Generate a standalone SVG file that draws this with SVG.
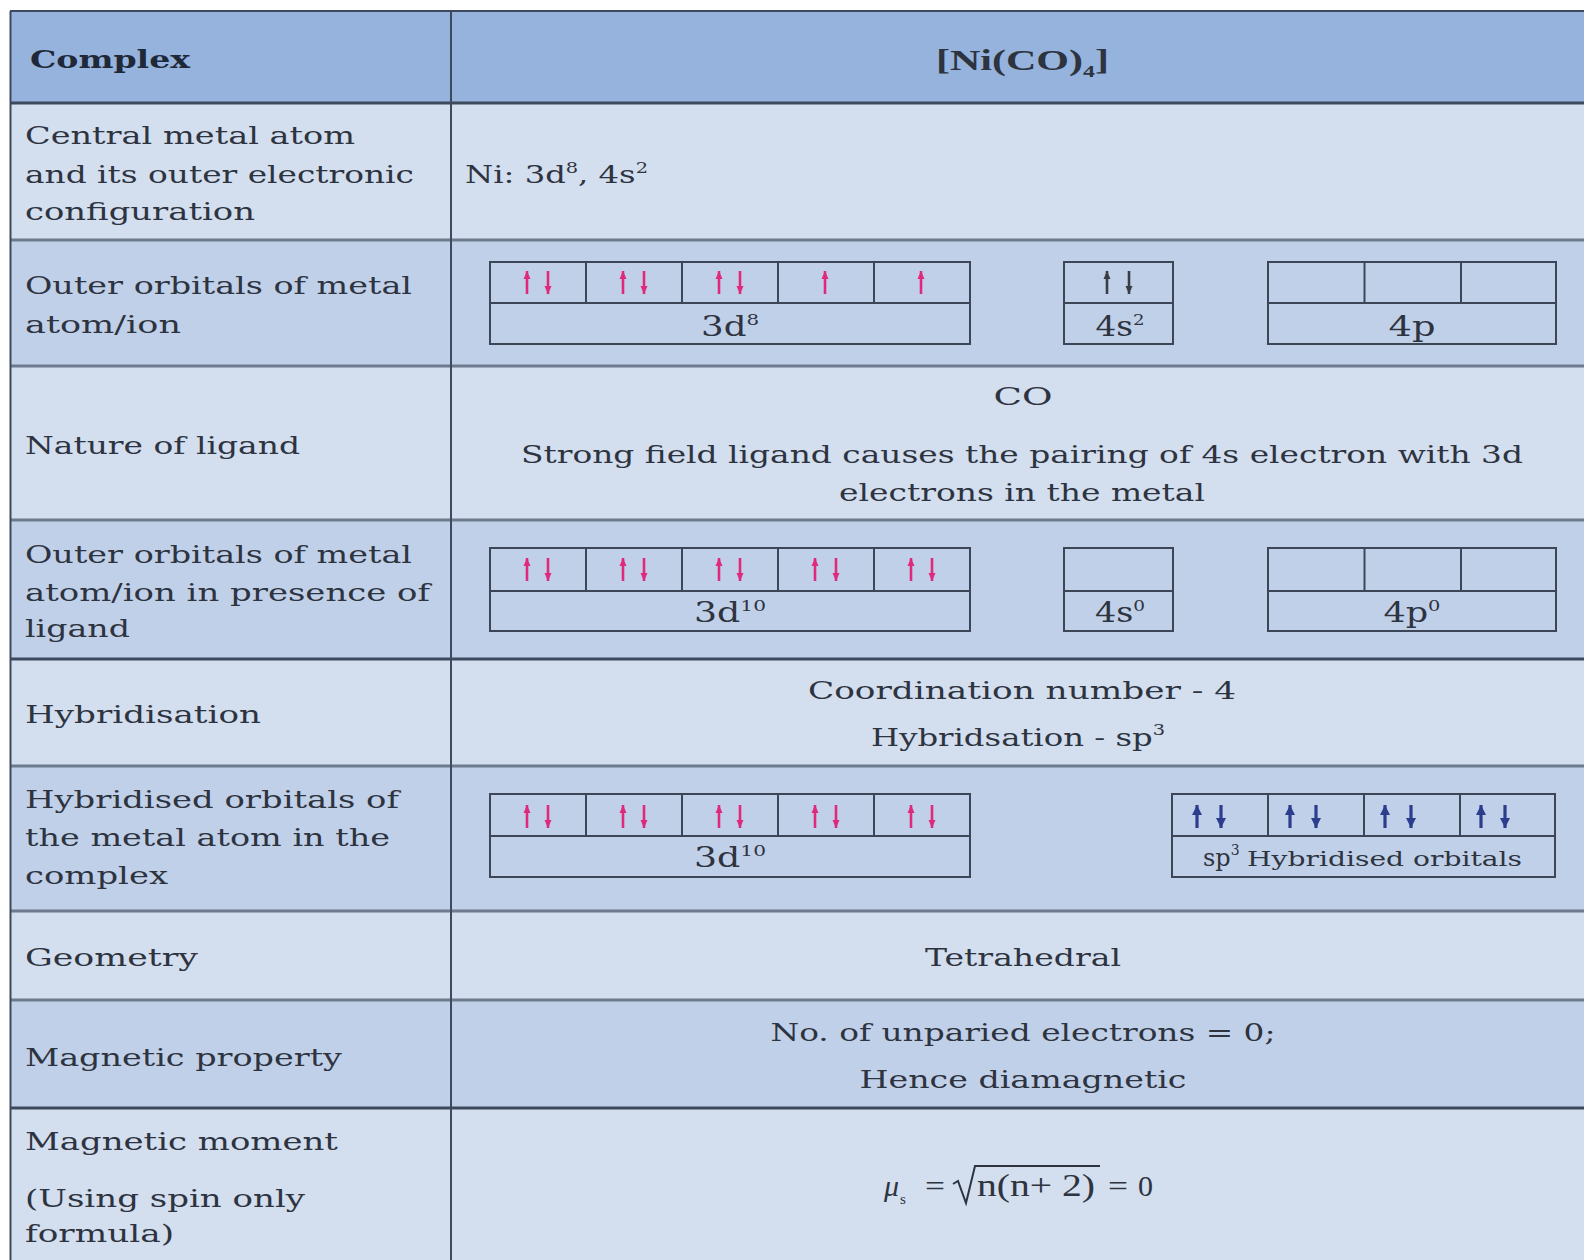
<svg xmlns="http://www.w3.org/2000/svg" width="1584" height="1260" viewBox="0 0 1584 1260">
<defs>
<marker id="hp" markerUnits="userSpaceOnUse" markerWidth="9" markerHeight="9" viewBox="0 -4.5 9 9" refX="8" refY="0" orient="auto"><path d="M0,-3.5 L8,0 L0,3.5 Z" fill="#e0287d"/></marker>
<marker id="hk" markerUnits="userSpaceOnUse" markerWidth="9" markerHeight="9" viewBox="0 -4.5 9 9" refX="8" refY="0" orient="auto"><path d="M0,-3.5 L8,0 L0,3.5 Z" fill="#3a3d44"/></marker>
<marker id="hb" markerUnits="userSpaceOnUse" markerWidth="12" markerHeight="12" viewBox="0 -6 12 12" refX="10" refY="0" orient="auto"><path d="M0,-5 L10,0 L0,5 Z" fill="#2b3d8c"/></marker>
</defs>
<style>
.t { font-family: "DejaVu Serif", "Liberation Serif", serif; font-size: 25px; fill: #2e343f; }
.b { font-weight: bold; fill: #1f2838; }
.c { text-anchor: middle; }
.lab { font-size: 27px; }
.m { font-family: "Liberation Serif", serif; font-size: 30px; fill: #2e343f; }
.hdr { fill: #95b3dd; }
.lt { fill: #d3deef; }
.dk { fill: #c1d0e9; }
.sep { stroke: #6e7b8e; stroke-width: 3; }
.dsep { stroke: #3d4a5e; stroke-width: 3; }
.vl { stroke: #3d4a5e; stroke-width: 2; }
.box { fill: none; stroke: #3c4656; stroke-width: 2; }
.bl { stroke: #3c4656; stroke-width: 2; }
.pk { stroke: #e0287d; stroke-width: 2.6; marker-end: url(#hp); }
.gk { stroke: #3a3d44; stroke-width: 2.6; marker-end: url(#hk); }
.bu { stroke: #2b3d8c; stroke-width: 3.2; marker-end: url(#hb); }
</style>
<rect x="0" y="0" width="1584" height="1260" fill="#ffffff"/>

<g id="row-backgrounds">
<rect class="hdr" x="10" y="12" width="1574" height="91"/>
<rect class="lt" x="10" y="103" width="1574" height="137"/>
<rect class="dk" x="10" y="240" width="1574" height="126"/>
<rect class="lt" x="10" y="366" width="1574" height="154"/>
<rect class="dk" x="10" y="520" width="1574" height="139"/>
<rect class="lt" x="10" y="659" width="1574" height="107"/>
<rect class="dk" x="10" y="766" width="1574" height="145"/>
<rect class="lt" x="10" y="911" width="1574" height="89"/>
<rect class="dk" x="10" y="1000" width="1574" height="108"/>
<rect class="lt" x="10" y="1108" width="1574" height="152"/>
</g>

<g id="grid">
<line class="vl" x1="10" y1="11" x2="1584" y2="11"/>
<line class="dsep" x1="10" y1="103" x2="1584" y2="103"/>
<line class="sep" x1="10" y1="240" x2="1584" y2="240"/>
<line class="sep" x1="10" y1="366" x2="1584" y2="366"/>
<line class="sep" x1="10" y1="520" x2="1584" y2="520"/>
<line class="dsep" x1="10" y1="659" x2="1584" y2="659"/>
<line class="sep" x1="10" y1="766" x2="1584" y2="766"/>
<line class="sep" x1="10" y1="911" x2="1584" y2="911"/>
<line class="sep" x1="10" y1="1000" x2="1584" y2="1000"/>
<line class="dsep" x1="10" y1="1108" x2="1584" y2="1108"/>
<line class="vl" x1="10.5" y1="11" x2="10.5" y2="1260"/>
<line class="vl" x1="451" y1="11" x2="451" y2="1260"/>
</g>

<g id="row-header">
<text class="t b" x="30" y="68" textLength="160" lengthAdjust="spacingAndGlyphs">Complex</text>
<text class="m b" x="936" y="70" textLength="173" lengthAdjust="spacingAndGlyphs">[Ni(CO)<tspan font-size="17" dy="7">4</tspan><tspan dy="-7">]</tspan></text>
</g>

<g id="row-config">
<text class="t" x="25" y="144" textLength="330" lengthAdjust="spacingAndGlyphs">Central metal atom</text>
<text class="t" x="25" y="182.5" textLength="389" lengthAdjust="spacingAndGlyphs">and its outer electronic</text>
<text class="t" x="25" y="219.5" textLength="230" lengthAdjust="spacingAndGlyphs">configuration</text>
<text class="t" x="465" y="183" textLength="183" lengthAdjust="spacingAndGlyphs">Ni: 3d<tspan font-size="15" dy="-10">8</tspan><tspan dy="10">, 4s</tspan><tspan font-size="15" dy="-10">2</tspan></text>
</g>

<g id="row-outer-orbitals">
<text class="t" x="25" y="294" textLength="387" lengthAdjust="spacingAndGlyphs">Outer orbitals of metal</text>
<text class="t" x="25" y="333" textLength="156" lengthAdjust="spacingAndGlyphs">atom/ion</text>
<rect class="box" x="490" y="262" width="480" height="82"/>
<line class="bl" x1="490" y1="303" x2="970" y2="303"/>
<line class="bl" x1="586" y1="262" x2="586" y2="303"/>
<line class="bl" x1="682" y1="262" x2="682" y2="303"/>
<line class="bl" x1="778" y1="262" x2="778" y2="303"/>
<line class="bl" x1="874" y1="262" x2="874" y2="303"/>
<line class="pk" x1="527" y1="294" x2="527" y2="271"/>
<line class="pk" x1="548" y1="271" x2="548" y2="294"/>
<line class="pk" x1="623" y1="294" x2="623" y2="271"/>
<line class="pk" x1="644" y1="271" x2="644" y2="294"/>
<line class="pk" x1="719" y1="294" x2="719" y2="271"/>
<line class="pk" x1="740" y1="271" x2="740" y2="294"/>
<line class="pk" x1="825" y1="294" x2="825" y2="271"/>
<line class="pk" x1="921" y1="294" x2="921" y2="271"/>
<text class="t lab c" x="730" y="336" textLength="58" lengthAdjust="spacingAndGlyphs">3d<tspan font-size="15" dy="-11">8</tspan></text>
<rect class="box" x="1064" y="262" width="109" height="82"/>
<line class="bl" x1="1064" y1="303" x2="1173" y2="303"/>
<line class="gk" x1="1107" y1="294" x2="1107" y2="271"/>
<line class="gk" x1="1129" y1="271" x2="1129" y2="294"/>
<text class="t lab c" x="1120" y="336" textLength="49" lengthAdjust="spacingAndGlyphs">4s<tspan font-size="15" dy="-11">2</tspan></text>
<rect class="box" x="1268" y="262" width="288" height="82"/>
<line class="bl" x1="1268" y1="303" x2="1556" y2="303"/>
<line class="bl" x1="1364.5" y1="262" x2="1364.5" y2="303"/>
<line class="bl" x1="1461" y1="262" x2="1461" y2="303"/>
<text class="t lab c" x="1412" y="336" textLength="47" lengthAdjust="spacingAndGlyphs">4p</text>
</g>

<g id="row-ligand">
<text class="t" x="25" y="454" textLength="275" lengthAdjust="spacingAndGlyphs">Nature of ligand</text>
<text class="t c" x="1023" y="405" textLength="59" lengthAdjust="spacingAndGlyphs">CO</text>
<text class="t c" x="1022" y="463" textLength="1002" lengthAdjust="spacingAndGlyphs">Strong field ligand causes the pairing of 4s electron with 3d</text>
<text class="t c" x="1022" y="501" textLength="366" lengthAdjust="spacingAndGlyphs">electrons in the metal</text>
</g>

<g id="row-outer-orbitals-ligand">
<text class="t" x="25" y="563" textLength="387" lengthAdjust="spacingAndGlyphs">Outer orbitals of metal</text>
<text class="t" x="25" y="601" textLength="405" lengthAdjust="spacingAndGlyphs">atom/ion in presence of</text>
<text class="t" x="25" y="637" textLength="105" lengthAdjust="spacingAndGlyphs">ligand</text>
<rect class="box" x="490" y="548" width="480" height="83"/>
<line class="bl" x1="490" y1="591" x2="970" y2="591"/>
<line class="bl" x1="586" y1="548" x2="586" y2="591"/>
<line class="bl" x1="682" y1="548" x2="682" y2="591"/>
<line class="bl" x1="778" y1="548" x2="778" y2="591"/>
<line class="bl" x1="874" y1="548" x2="874" y2="591"/>
<line class="pk" x1="527" y1="581" x2="527" y2="558"/>
<line class="pk" x1="548" y1="558" x2="548" y2="581"/>
<line class="pk" x1="623" y1="581" x2="623" y2="558"/>
<line class="pk" x1="644" y1="558" x2="644" y2="581"/>
<line class="pk" x1="719" y1="581" x2="719" y2="558"/>
<line class="pk" x1="740" y1="558" x2="740" y2="581"/>
<line class="pk" x1="815" y1="581" x2="815" y2="558"/>
<line class="pk" x1="836" y1="558" x2="836" y2="581"/>
<line class="pk" x1="911" y1="581" x2="911" y2="558"/>
<line class="pk" x1="932" y1="558" x2="932" y2="581"/>
<text class="t lab c" x="730" y="622" textLength="72" lengthAdjust="spacingAndGlyphs">3d<tspan font-size="15" dy="-11">10</tspan></text>
<rect class="box" x="1064" y="548" width="109" height="83"/>
<line class="bl" x1="1064" y1="591" x2="1173" y2="591"/>
<text class="t lab c" x="1120" y="622" textLength="50" lengthAdjust="spacingAndGlyphs">4s<tspan font-size="15" dy="-11">0</tspan></text>
<rect class="box" x="1268" y="548" width="288" height="83"/>
<line class="bl" x1="1268" y1="591" x2="1556" y2="591"/>
<line class="bl" x1="1364.5" y1="548" x2="1364.5" y2="591"/>
<line class="bl" x1="1461" y1="548" x2="1461" y2="591"/>
<text class="t lab c" x="1412" y="622" textLength="57" lengthAdjust="spacingAndGlyphs">4p<tspan font-size="15" dy="-11">0</tspan></text>
</g>

<g id="row-hybridisation">
<text class="t" x="25" y="723" textLength="236" lengthAdjust="spacingAndGlyphs">Hybridisation</text>
<text class="t c" x="1022" y="699" textLength="428" lengthAdjust="spacingAndGlyphs">Coordination number - 4</text>
<text class="t c" x="1018" y="746" textLength="294" lengthAdjust="spacingAndGlyphs">Hybridsation - sp<tspan font-size="15" dy="-11">3</tspan></text>
</g>

<g id="row-hybrid-orbitals">
<text class="t" x="25" y="808" textLength="374" lengthAdjust="spacingAndGlyphs">Hybridised orbitals of</text>
<text class="t" x="25" y="846" textLength="365" lengthAdjust="spacingAndGlyphs">the metal atom in the</text>
<text class="t" x="25" y="884" textLength="143" lengthAdjust="spacingAndGlyphs">complex</text>
<rect class="box" x="490" y="794" width="480" height="83"/>
<line class="bl" x1="490" y1="836" x2="970" y2="836"/>
<line class="bl" x1="586" y1="794" x2="586" y2="836"/>
<line class="bl" x1="682" y1="794" x2="682" y2="836"/>
<line class="bl" x1="778" y1="794" x2="778" y2="836"/>
<line class="bl" x1="874" y1="794" x2="874" y2="836"/>
<line class="pk" x1="527" y1="828" x2="527" y2="805"/>
<line class="pk" x1="548" y1="805" x2="548" y2="828"/>
<line class="pk" x1="623" y1="828" x2="623" y2="805"/>
<line class="pk" x1="644" y1="805" x2="644" y2="828"/>
<line class="pk" x1="719" y1="828" x2="719" y2="805"/>
<line class="pk" x1="740" y1="805" x2="740" y2="828"/>
<line class="pk" x1="815" y1="828" x2="815" y2="805"/>
<line class="pk" x1="836" y1="805" x2="836" y2="828"/>
<line class="pk" x1="911" y1="828" x2="911" y2="805"/>
<line class="pk" x1="932" y1="805" x2="932" y2="828"/>
<text class="t lab c" x="730" y="867" textLength="72" lengthAdjust="spacingAndGlyphs">3d<tspan font-size="15" dy="-11">10</tspan></text>
<rect class="box" x="1172" y="794" width="383" height="83"/>
<line class="bl" x1="1172" y1="836" x2="1555" y2="836"/>
<line class="bl" x1="1268" y1="794" x2="1268" y2="836"/>
<line class="bl" x1="1364" y1="794" x2="1364" y2="836"/>
<line class="bl" x1="1460" y1="794" x2="1460" y2="836"/>
<line class="bu" x1="1197" y1="828" x2="1197" y2="805"/>
<line class="bu" x1="1221" y1="805" x2="1221" y2="828"/>
<line class="bu" x1="1290" y1="828" x2="1290" y2="805"/>
<line class="bu" x1="1316" y1="805" x2="1316" y2="828"/>
<line class="bu" x1="1385" y1="828" x2="1385" y2="805"/>
<line class="bu" x1="1411" y1="805" x2="1411" y2="828"/>
<line class="bu" x1="1481" y1="828" x2="1481" y2="805"/>
<line class="bu" x1="1505" y1="805" x2="1505" y2="828"/>
<text class="t" x="1203" y="866" style="font-size:24px">sp<tspan font-size="14" dy="-11">3</tspan></text>
<text class="t" x="1247" y="866" style="font-size:21px" textLength="275" lengthAdjust="spacingAndGlyphs">Hybridised orbitals</text>
</g>

<g id="row-geometry">
<text class="t" x="25" y="966" textLength="173" lengthAdjust="spacingAndGlyphs">Geometry</text>
<text class="t c" x="1023" y="966" textLength="196" lengthAdjust="spacingAndGlyphs">Tetrahedral</text>
</g>

<g id="row-magnetic-property">
<text class="t" x="25" y="1066" textLength="317" lengthAdjust="spacingAndGlyphs">Magnetic property</text>
<text class="t c" x="1023" y="1041" textLength="505" lengthAdjust="spacingAndGlyphs">No. of unparied electrons = 0;</text>
<text class="t c" x="1023" y="1088" textLength="327" lengthAdjust="spacingAndGlyphs">Hence diamagnetic</text>
</g>

<g id="row-magnetic-moment">
<text class="t" x="25" y="1150" textLength="313" lengthAdjust="spacingAndGlyphs">Magnetic moment</text>
<text class="t" x="25" y="1207" textLength="280" lengthAdjust="spacingAndGlyphs">(Using spin only</text>
<text class="t" x="25" y="1242" textLength="149" lengthAdjust="spacingAndGlyphs">formula)</text>
<text class="m" x="884" y="1196" font-style="italic">μ</text>
<text class="m" x="900" y="1204" style="font-size:15px">s</text>
<text class="m" x="925" y="1196" textLength="20" lengthAdjust="spacingAndGlyphs">=</text>
<polyline points="953,1184 958,1181 966,1203 975,1166 1100,1166" fill="none" stroke="#2e343f" stroke-width="2"/>
<text class="m" x="977" y="1196" style="font-size:31px" textLength="118" lengthAdjust="spacingAndGlyphs">n(n+ 2)</text>
<text class="m" x="1108" y="1196" textLength="20" lengthAdjust="spacingAndGlyphs">=</text>
<text class="m" x="1138" y="1196">0</text>
</g>
</svg>
